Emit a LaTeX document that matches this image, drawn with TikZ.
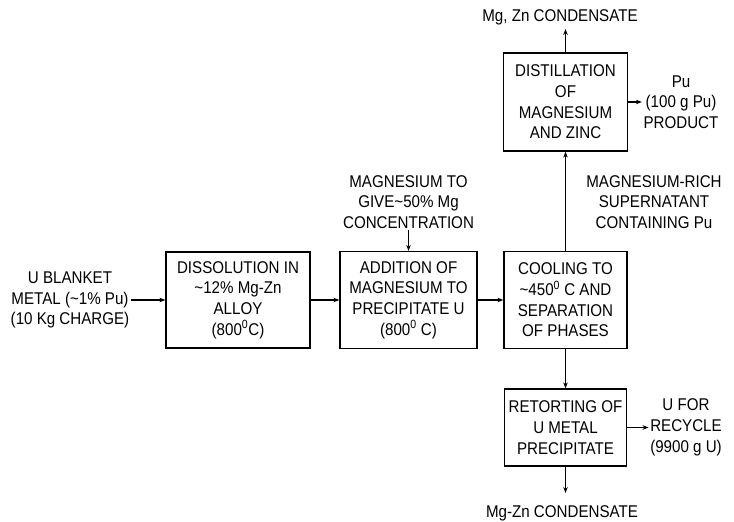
\documentclass[tikz,border=0pt]{standalone}
\usepackage{fontspec}
\setmainfont[FakeStretch=0.89]{Liberation Sans}
\usetikzlibrary{arrows.meta}
\begin{document}
\begin{tikzpicture}[x=1pt,y=-1pt,
  every node/.style={font=\fontsize{17}{20.7}\selectfont},
  box/.style={draw, line width=1.2pt, align=center, inner sep=0pt},
  txt/.style={align=center, inner sep=1.5pt},
  flow/.style={-{Stealth[length=6pt,width=4.5pt]}, line width=1.1pt}]
\useasboundingbox (0,0) rectangle (734,522);
% process boxes
\node[box, minimum width=144pt, minimum height=96pt] (diss) at (238,300)
  {DISSOLUTION IN\\\textasciitilde12\% Mg-Zn\\ALLOY\\(800\textsuperscript{0}C)};
\node[box, minimum width=137pt, minimum height=97pt] (add) at (408.5,300)
  {ADDITION OF\\MAGNESIUM TO\\PRECIPITATE U\\(800\textsuperscript{0} C)};
\node[box, minimum width=123pt, minimum height=97pt] (cool) at (565.5,300)
  {COOLING TO\\\textasciitilde450\textsuperscript{0} C AND\\SEPARATION\\OF PHASES};
\node[box, minimum width=124pt, minimum height=98pt] (dist) at (565.5,102)
  {DISTILLATION\\OF\\MAGNESIUM\\AND ZINC};
\node[box, minimum width=122pt, minimum height=77pt] (ret) at (565.5,427.5)
  {RETORTING OF\\U METAL\\PRECIPITATE};
% free texts
\node[txt] (feed) at (70,300) {U BLANKET\\METAL (\textasciitilde1\% Pu)\\(10 Kg CHARGE)};
\node[txt] (mgadd) at (408.5,202) {MAGNESIUM TO\\GIVE\textasciitilde50\% Mg\\CONCENTRATION};
\node[txt] (rich) at (654,202) {MAGNESIUM-RICH\\SUPERNATANT\\CONTAINING Pu};
\node[txt] (pu) at (681,102) {Pu\\(100 g Pu)\\PRODUCT};
\node[txt] (recycle) at (686,427.5) {U FOR\\RECYCLE\\(9900 g U)};
\node[txt] (topcond) at (560,17) {Mg, Zn CONDENSATE};
\node[txt] (botcond) at (562,513) {Mg-Zn CONDENSATE};
\coordinate (topend) at (565.5,29);
\coordinate (botend) at (565.5,493);
% connectors
\draw[flow] (feed) -- (diss);
\draw[flow] (diss) -- (add);
\draw[flow] (add) -- (cool);
\draw[flow] (mgadd) -- (add);
\draw[flow] (cool) -- (dist);
\draw[flow] (dist) -- (topend);
\draw[flow] (dist) -- (pu);
\draw[flow] (cool) -- (ret);
\draw[flow] (ret) -- (recycle);
\draw[flow] (ret) -- (botend);
\end{tikzpicture}
\end{document}
